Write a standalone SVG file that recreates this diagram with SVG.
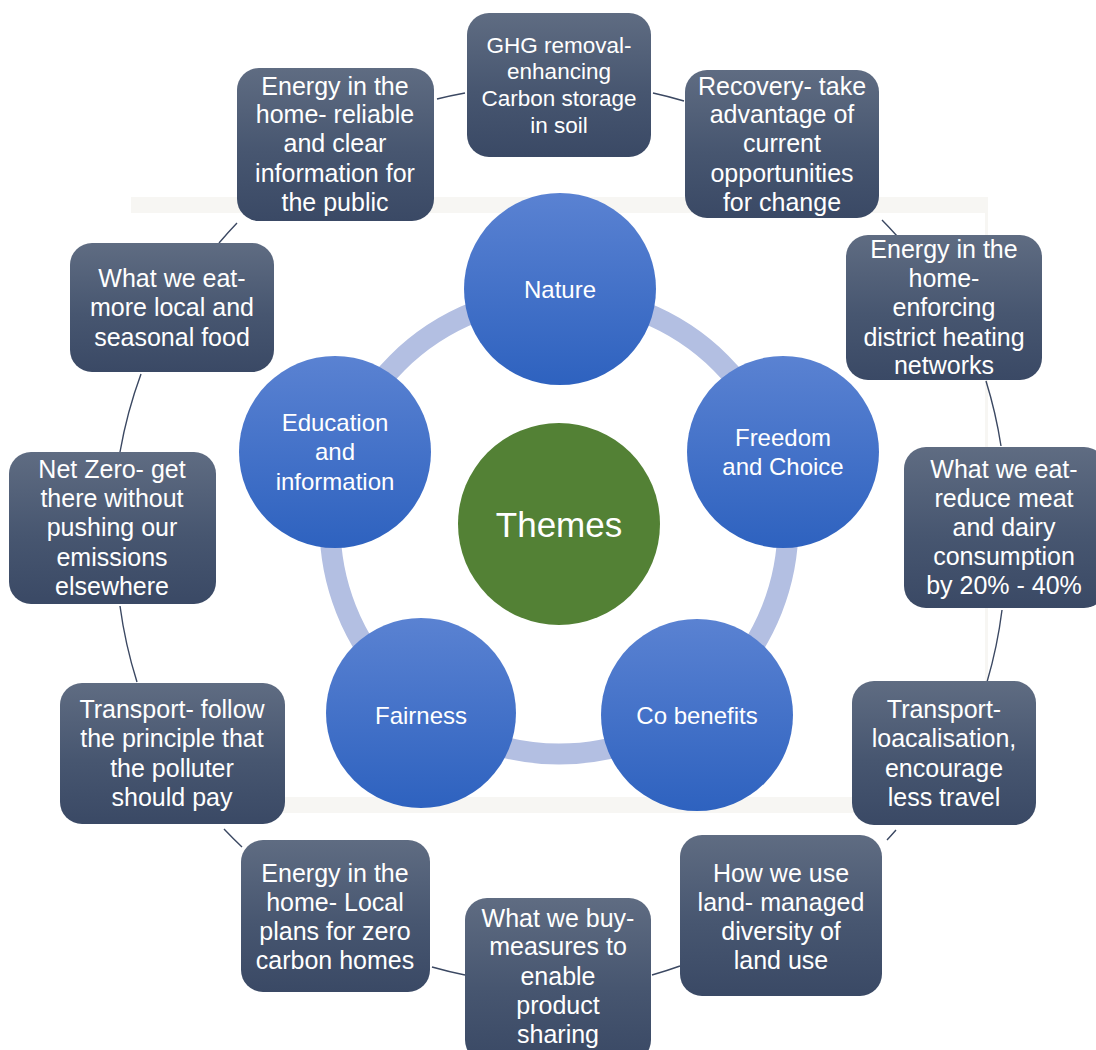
<svg xmlns="http://www.w3.org/2000/svg" width="1096" height="1050" viewBox="0 0 1096 1050">
  <defs>
    <linearGradient id="boxFill" x1="0" y1="0" x2="0" y2="1">
      <stop offset="0" stop-color="#5f6c82"/>
      <stop offset="0.55" stop-color="#475670"/>
      <stop offset="1" stop-color="#3a4965"/>
    </linearGradient>
    <linearGradient id="themeFill" x1="0" y1="0" x2="0" y2="1">
      <stop offset="0" stop-color="#5a82d2"/>
      <stop offset="1" stop-color="#2e62bf"/>
    </linearGradient>
    <style>
      .box { fill: url(#boxFill); }
      .bt { font-family: "Liberation Sans", Arial, sans-serif; font-size: 25px; fill: #ffffff; text-anchor: middle; }
      .ct { font-family: "Liberation Sans", Arial, sans-serif; font-size: 24px; fill: #ffffff; text-anchor: middle; }
      .theme { fill: url(#themeFill); }
      .link { fill: none; stroke: #3b4862; stroke-width: 1.4; }
      .frame { fill: #f7f6f3; }
    </style>
  </defs>

  <rect width="1096" height="1050" fill="#ffffff"/>

  <!-- faint background frame -->
  <g id="frame">
    <rect class="frame" x="131" y="197" width="857" height="16"/>
    <rect class="frame" x="131" y="797" width="857" height="16"/>
    <rect class="frame" x="985" y="197" width="3" height="616"/>
  </g>

  <!-- outer ring connectors -->
  <g id="connectors">
    <path class="link" d="M437,99 A450,450 0 0 1 465,93"/>
    <path class="link" d="M653,93 A450,450 0 0 1 684,101"/>
    <path class="link" d="M882,220 A450,450 0 0 1 897,236"/>
    <path class="link" d="M986,381 A450,450 0 0 1 1001,446"/>
    <path class="link" d="M1002,610 A450,450 0 0 1 987,682"/>
    <path class="link" d="M896,830 A450,450 0 0 1 887,840"/>
    <path class="link" d="M680,966 A450,450 0 0 1 652,975"/>
    <path class="link" d="M465,975 A450,450 0 0 1 432,967"/>
    <path class="link" d="M242,847 A450,450 0 0 1 224,829"/>
    <path class="link" d="M137,682 A450,450 0 0 1 120,606"/>
    <path class="link" d="M120,452 A450,450 0 0 1 141,374"/>
    <path class="link" d="M219,243 A450,450 0 0 1 237,223"/>
    <!-- inner theme ring -->
    <circle cx="559" cy="525" r="229" fill="none" stroke="#b3bfe2" stroke-width="21"/>
  </g>

  <!-- outer boxes -->
  <g id="box-ghg">
    <rect class="box" x="467" y="13" width="184" height="144" rx="22"/>
    <text class="bt" style="font-size:22.5px"><tspan x="559" y="53">GHG removal-</tspan><tspan x="559" y="79">enhancing</tspan><tspan x="559" y="106">Carbon storage</tspan><tspan x="559" y="133">in soil</tspan></text>
  </g>
  <g id="box-recovery">
    <rect class="box" x="685" y="70" width="194" height="148" rx="22"/>
    <text class="bt"><tspan x="782" y="95">Recovery- take</tspan><tspan x="782" y="123">advantage of</tspan><tspan x="782" y="152">current</tspan><tspan x="782" y="182">opportunities</tspan><tspan x="782" y="211">for change</tspan></text>
  </g>
  <g id="box-district-heating">
    <rect class="box" x="846" y="235" width="196" height="145" rx="22"/>
    <text class="bt"><tspan x="944" y="258">Energy in the</tspan><tspan x="944" y="287">home-</tspan><tspan x="944" y="316">enforcing</tspan><tspan x="944" y="346">district heating</tspan><tspan x="944" y="374">networks</tspan></text>
  </g>
  <g id="box-meat-dairy">
    <rect class="box" x="904" y="447" width="202" height="161" rx="22"/>
    <text class="bt"><tspan x="1004" y="478">What we eat-</tspan><tspan x="1004" y="507">reduce meat</tspan><tspan x="1004" y="536">and dairy</tspan><tspan x="1004" y="565">consumption</tspan><tspan x="1004" y="594">by 20% - 40%</tspan></text>
  </g>
  <g id="box-localisation">
    <rect class="box" x="852" y="681" width="184" height="144" rx="22"/>
    <text class="bt"><tspan x="944" y="718">Transport-</tspan><tspan x="944" y="747">loacalisation,</tspan><tspan x="944" y="777">encourage</tspan><tspan x="944" y="806">less travel</tspan></text>
  </g>
  <g id="box-land-use">
    <rect class="box" x="680" y="835" width="202" height="161" rx="22"/>
    <text class="bt"><tspan x="781" y="882">How we use</tspan><tspan x="781" y="911">land- managed</tspan><tspan x="781" y="940">diversity of</tspan><tspan x="781" y="969">land use</tspan></text>
  </g>
  <g id="box-product-sharing">
    <rect class="box" x="465" y="898" width="186" height="164" rx="22"/>
    <text class="bt"><tspan x="558" y="927">What we buy-</tspan><tspan x="558" y="955">measures to</tspan><tspan x="558" y="985">enable</tspan><tspan x="558" y="1014">product</tspan><tspan x="558" y="1043">sharing</tspan></text>
  </g>
  <g id="box-local-plans">
    <rect class="box" x="241" y="840" width="189" height="152" rx="22"/>
    <text class="bt"><tspan x="335" y="882">Energy in the</tspan><tspan x="335" y="911">home- Local</tspan><tspan x="335" y="940">plans for zero</tspan><tspan x="335" y="969">carbon homes</tspan></text>
  </g>
  <g id="box-polluter-pays">
    <rect class="box" x="60" y="683" width="225" height="141" rx="22"/>
    <text class="bt"><tspan x="172" y="718">Transport- follow</tspan><tspan x="172" y="747">the principle that</tspan><tspan x="172" y="777">the polluter</tspan><tspan x="172" y="806">should pay</tspan></text>
  </g>
  <g id="box-net-zero">
    <rect class="box" x="9" y="452" width="207" height="152" rx="22"/>
    <text class="bt"><tspan x="112" y="478">Net Zero- get</tspan><tspan x="112" y="507">there without</tspan><tspan x="112" y="536">pushing our</tspan><tspan x="112" y="566">emissions</tspan><tspan x="112" y="595">elsewhere</tspan></text>
  </g>
  <g id="box-local-food">
    <rect class="box" x="70" y="243" width="204" height="129" rx="22"/>
    <text class="bt"><tspan x="172" y="287">What we eat-</tspan><tspan x="172" y="316">more local and</tspan><tspan x="172" y="346">seasonal food</tspan></text>
  </g>
  <g id="box-public-info">
    <rect class="box" x="237" y="68" width="197" height="153" rx="22"/>
    <text class="bt"><tspan x="335" y="95">Energy in the</tspan><tspan x="335" y="123">home- reliable</tspan><tspan x="335" y="152">and clear</tspan><tspan x="335" y="182">information for</tspan><tspan x="335" y="211">the public</tspan></text>
  </g>

  <!-- theme circles -->
  <g id="theme-nature">
    <circle class="theme" cx="560" cy="289" r="96"/>
    <text class="ct" x="560" y="298">Nature</text>
  </g>
  <g id="theme-freedom">
    <circle class="theme" cx="783" cy="452" r="96"/>
    <text class="ct"><tspan x="783" y="446">Freedom</tspan><tspan x="783" y="475">and Choice</tspan></text>
  </g>
  <g id="theme-cobenefits">
    <circle class="theme" cx="697" cy="715" r="96"/>
    <text class="ct" x="697" y="724">Co benefits</text>
  </g>
  <g id="theme-fairness">
    <circle class="theme" cx="421" cy="713" r="95"/>
    <text class="ct" x="421" y="724">Fairness</text>
  </g>
  <g id="theme-education">
    <circle class="theme" cx="335" cy="452" r="96"/>
    <text class="ct"><tspan x="335" y="431">Education</tspan><tspan x="335" y="460">and</tspan><tspan x="335" y="490">information</tspan></text>
  </g>

  <!-- centre -->
  <g id="themes-centre">
    <circle cx="559" cy="524" r="101" fill="#538135"/>
    <text x="559" y="537" font-family="Liberation Sans, Arial, sans-serif" font-size="35" fill="#ffffff" text-anchor="middle">Themes</text>
  </g>
</svg>
